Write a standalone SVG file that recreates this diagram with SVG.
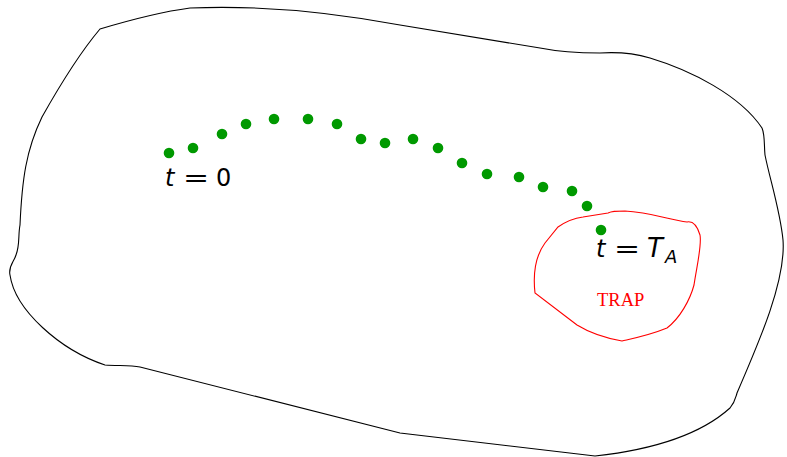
<svg xmlns="http://www.w3.org/2000/svg" width="787" height="457" viewBox="0 0 787 457">
<style>
.outer{fill:none;stroke:#000;stroke-width:1.1}
.trap{fill:none;stroke:#ff0000;stroke-width:1.1}
.dot{fill:#009900}
.m{font-family:"DejaVu Sans",sans-serif;fill:#000}
.it{font-style:italic}
.lbl{font-family:"Liberation Serif",serif;fill:#ff0000;font-size:18.5px}
</style>
<rect width="787" height="457" fill="#fff"/>
<g id="domain">
<path class="outer" d="M100,29 C130,20 160,12 190,8 C260,5 330,12 400,25 L540,48 C560,52 580,53 600,53 C615,52 630,52 650,58 C690,70 740,95 762,128 C765,135 764,145 765,155 C770,180 780,210 783,240 C786,280 760,340 737,393 C735,400 735,402 730,408 C700,435 650,450 595,456 L400,433 L140,367 C130,365 118,366 105,365 C60,350 15,310 10,275 C8,266 14,262 16,255 C20,245 18,235 20,225 C22,180 26,150 42,117 C60,85 78,55 100,29 Z"/>
</g>
<g id="trap">
<path class="trap" d="M535,293 C533,275 534,258 545,243 L558,227 C568,220 575,218 583,217 L608,213 C612,211 615,211 625,211 C650,212 670,220 687,222 C692,221 697,225 700,235 C702,245 697,265 694,285 C690,300 680,318 667,328 C650,335 635,338 622,341 C605,338 590,333 577,325 Z"/>
<text class="lbl" x="597" y="306">TRAP</text>
</g>
<g id="trajectory">
<circle class="dot" cx="169" cy="153" r="5.3"/>
<circle class="dot" cx="193" cy="148" r="5.3"/>
<circle class="dot" cx="222" cy="134" r="5.3"/>
<circle class="dot" cx="246" cy="124" r="5.3"/>
<circle class="dot" cx="274" cy="119" r="5.3"/>
<circle class="dot" cx="308" cy="119" r="5.3"/>
<circle class="dot" cx="337" cy="124" r="5.3"/>
<circle class="dot" cx="361" cy="139" r="5.3"/>
<circle class="dot" cx="385" cy="143" r="5.3"/>
<circle class="dot" cx="413" cy="139" r="5.3"/>
<circle class="dot" cx="438" cy="148" r="5.3"/>
<circle class="dot" cx="462" cy="163" r="5.3"/>
<circle class="dot" cx="487" cy="174" r="5.3"/>
<circle class="dot" cx="519" cy="177" r="5.3"/>
<circle class="dot" cx="543" cy="187" r="5.3"/>
<circle class="dot" cx="572" cy="191" r="5.3"/>
<circle class="dot" cx="587" cy="206" r="5.3"/>
<circle class="dot" cx="601" cy="230" r="5.3"/>
</g>
<g id="label-t0" class="m" font-size="24">
<text class="it" x="165" y="186">t</text>
<text x="183" y="186" transform="translate(183 0) scale(1.3 1) translate(-183 0)">=</text>
<text x="216" y="186">0</text>
</g>
<g id="label-tA" class="m" font-size="24">
<text class="it" x="596" y="257">t</text>
<text x="614" y="257" transform="translate(614 0) scale(1.3 1) translate(-614 0)">=</text>
<text class="it" x="647" y="257" font-size="26">T</text>
<text class="it" x="665" y="263" font-size="18">A</text>
</g>
</svg>
